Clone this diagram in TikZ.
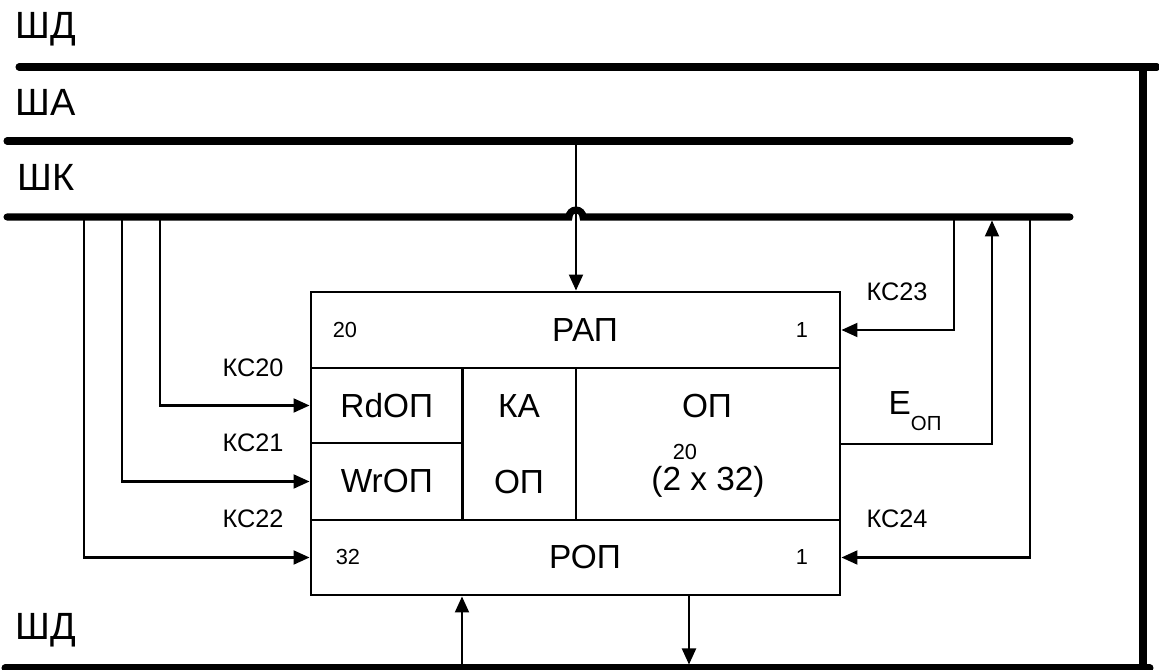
\documentclass[tikz,border=0pt]{standalone}
\usepackage{fontspec}
\setmainfont{Liberation Sans}
\usetikzlibrary{arrows.meta}
\tikzset{
  bus/.style={line width=2pt, line cap=round},
  wire/.style={line width=0.6pt},
  sig/.style={wire, -{Triangle[length=0.16cm, width=0.14cm]}},
  cell/.style={draw, line width=0.85pt, inner sep=0pt},
  busname/.style={font=\fontsize{10.8}{12}\selectfont},
  csname/.style={font=\fontsize{7.2}{8}\selectfont},
  bitnum/.style={font=\fontsize{6.2}{7}\selectfont},
}

\begin{document}
\begin{tikzpicture}[font=\fontsize{9.5}{11}\selectfont]
  \useasboundingbox (0,0) rectangle (11.59,-6.70);

  % buses
  \draw[bus] (0.19,-0.67) -- (11.57,-0.67);
  \draw[bus] (11.43,-0.67) -- (11.43,-6.80);
  \draw[bus] (0.07,-1.41) -- (10.70,-1.41);
  \draw[bus] (0.07,-2.17) -- (5.69,-2.17)
    arc[start angle=180, end angle=0, radius=0.07cm] -- (10.70,-2.17);
  \draw[bus] (0.05,-6.68) -- (11.50,-6.68);

  \node[busname] (shd)  at (0.46,-0.29) {ШД};
  \node[busname] (sha)  at (0.46,-1.02) {ША};
  \node[busname] (shk)  at (0.46,-1.77) {ШК};
  \node[busname] (shd2) at (0.46,-6.30) {ШД};

  % memory block
  \node[cell, minimum width=5.29cm, minimum height=0.76cm] (rap) at (5.755,-3.30) {};
  \node[cell, minimum width=5.29cm, minimum height=0.75cm] (rop) at (5.755,-5.575) {};
  \node[cell, minimum width=1.515cm, minimum height=0.75cm] (rd) at (3.8675,-4.055) {RdОП};
  \node[cell, minimum width=1.515cm, minimum height=0.77cm] (wr) at (3.8675,-4.815) {WrОП};
  \node[cell, minimum width=1.135cm, minimum height=1.52cm] (ka) at (5.1925,-4.44) {};
  \node[cell, minimum width=2.64cm, minimum height=1.52cm] (op) at (7.08,-4.44) {};

  \node (raptxt) at (5.85,-3.30) {РАП};
  \node (roptxt) at (5.85,-5.57) {РОП};
  \node[bitnum] (rapmsb) at (3.45,-3.30) {20};
  \node[bitnum] (raplsb) at (8.02,-3.30) {1};
  \node[bitnum] (ropmsb) at (3.48,-5.57) {32};
  \node[bitnum] (roplsb) at (8.02,-5.57) {1};
  \node (katxt1) at (5.19,-4.06) {КА};
  \node (katxt2) at (5.19,-4.82) {ОП};
  \node (optxt)  at (7.07,-4.06) {ОП};
  \node[bitnum] (opexp) at (6.85,-4.52) {20};
  \node (opsize) at (7.08,-4.82) {(2 x 32)};

  % taps on the buses
  \coordinate (k20) at (1.60,-2.17);
  \coordinate (k21) at (1.22,-2.17);
  \coordinate (k22) at (0.84,-2.17);
  \coordinate (k23) at (9.54,-2.17);
  \coordinate (k24) at (10.30,-2.17);
  \coordinate (eop) at (9.92,-2.205);
  \coordinate (adr) at (5.76,-1.41);
  \coordinate (din) at (4.62,-6.68);
  \coordinate (dout) at (6.89,-6.645);

  % control signals
  \draw[sig] (k20) |- (rd.west);
  \draw[sig] (k21) |- (wr.west);
  \draw[sig] (k22) |- (rop.west);
  \draw[sig] (k23) |- (rap.east);
  \draw[sig] (k24) |- (rop.east);
  \draw[sig] (op.east) -| (eop);
  \node[csname] (cs20) at (2.53,-3.68) {КС20};
  \node[csname] (cs21) at (2.53,-4.43) {КС21};
  \node[csname] (cs22) at (2.53,-5.19) {КС22};
  \node[csname] (cs23) at (8.97,-2.92) {КС23};
  \node[csname] (cs24) at (8.97,-5.19) {КС24};
  \node[anchor=base west, inner sep=0pt] (elab) at (8.88,-4.15)
    {E\raisebox{-4.3pt}{\fontsize{5.8}{6}\selectfont ОП}};

  % address and data
  \draw[sig] (adr) -- (adr |- rap.north);
  \draw[sig] (din) -- (din |- rop.south);
  \draw[sig] (dout |- rop.south) -- (dout);
\end{tikzpicture}
\end{document}
